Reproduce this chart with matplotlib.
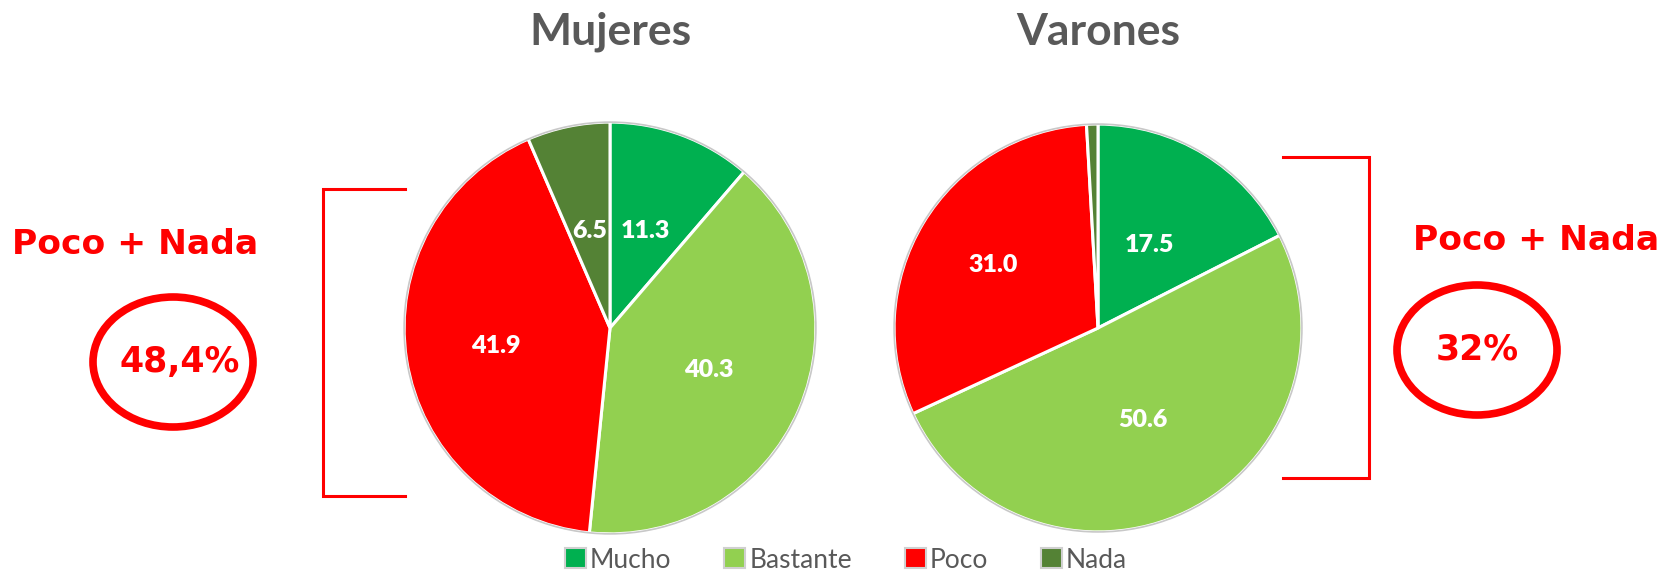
import numpy as np
import matplotlib
matplotlib.use("Agg")
import matplotlib.pyplot as plt
from matplotlib.patches import Ellipse, Patch

# Data
categories = ["Mucho", "Bastante", "Poco", "Nada"]
mujeres = [11.3, 40.3, 41.9, 6.5]
varones = [17.5, 50.6, 31.0, 0.9]
colors = ["#00B050", "#92D050", "#FF0000", "#548235"]
poco_nada_mujeres = "48,4%"
poco_nada_varones = "32%"

W, H = 1664, 574
fig = plt.figure(figsize=(W / 100, H / 100), dpi=100)

title_font = "Lato"
red = "#FF0000"


def draw_pie(cx, cy, r, values, title, label_dist):
    # cx, cy, r in pixels (y from top)
    ax = fig.add_axes([(cx - r) / W, (H - cy - r) / H, 2 * r / W, 2 * r / H])
    wedges, _ = ax.pie(values, colors=colors, startangle=90, counterclock=False,
                       wedgeprops=dict(edgecolor="white", linewidth=2.2))
    ax.add_patch(plt.Circle((0, 0), 1.0, fill=False, edgecolor="#c8c8c8", linewidth=1.2))
    for w, v, d in zip(wedges, values, label_dist):
        if v < 2:
            continue
        ang = np.deg2rad((w.theta1 + w.theta2) / 2)
        ax.text(d * np.cos(ang), d * np.sin(ang), f"{v:.1f}", ha="center", va="center",
                color="white", fontsize=18, fontweight="heavy", family=title_font)
    ax.set_xlim(-1.02, 1.02)
    ax.set_ylim(-1.02, 1.02)
    ax.set_aspect("equal")
    ax.axis("off")
    fig.text(cx / W, 1 - 32 / H, title, ha="center", va="center", fontsize=32,
             fontweight="bold", color="#595959", family=title_font)


draw_pie(610, 328, 210, mujeres, "Mujeres", [0.5, 0.52, 0.56, 0.48])
draw_pie(1098, 328, 208, varones, "Varones", [0.48, 0.5, 0.6, 0.5])

# Overlay for annotations (pixel coordinates)
ov = fig.add_axes([0, 0, 1, 1], zorder=5)
ov.set_xlim(0, W)
ov.set_ylim(H, 0)
ov.axis("off")

# Left bracket
ov.plot([405, 323, 323, 405], [189, 189, 496, 496], color=red, lw=2.2, solid_joinstyle="miter")
# Right bracket
ov.plot([1283, 1369, 1369, 1283], [157, 157, 478, 478], color=red, lw=2.2, solid_joinstyle="miter")

ov.text(135, 245, "Poco + Nada", ha="center", va="center", color=red,
        fontsize=24.8, fontweight="bold", family="DejaVu Sans")
ov.text(1536, 240, "Poco + Nada", ha="center", va="center", color=red,
        fontsize=24.8, fontweight="bold", family="DejaVu Sans")

ov.add_patch(Ellipse((173, 362), 160, 130, fill=False, edgecolor=red, lw=5.5))
ov.add_patch(Ellipse((1477, 350), 160, 130, fill=False, edgecolor=red, lw=5.5))
ov.text(180, 362, poco_nada_mujeres, ha="center", va="center", color=red,
        fontsize=25, fontweight="bold", family="DejaVu Sans")
ov.text(1477, 350, poco_nada_varones, ha="center", va="center", color=red,
        fontsize=25, fontweight="bold", family="DejaVu Sans")

# Legend
handles = [Patch(facecolor=c, edgecolor="#d0d0d0", linewidth=1.5) for c in colors]
fig.legend(handles, categories, loc="center", bbox_to_anchor=(846 / W, 14 / H), ncol=4,
           frameon=False, handlelength=0.8, handleheight=0.8, handletextpad=0.15,
           columnspacing=2.0, prop=dict(family=title_font, size=19), labelcolor="#595959")

fig.savefig("out.png", dpi=100)
